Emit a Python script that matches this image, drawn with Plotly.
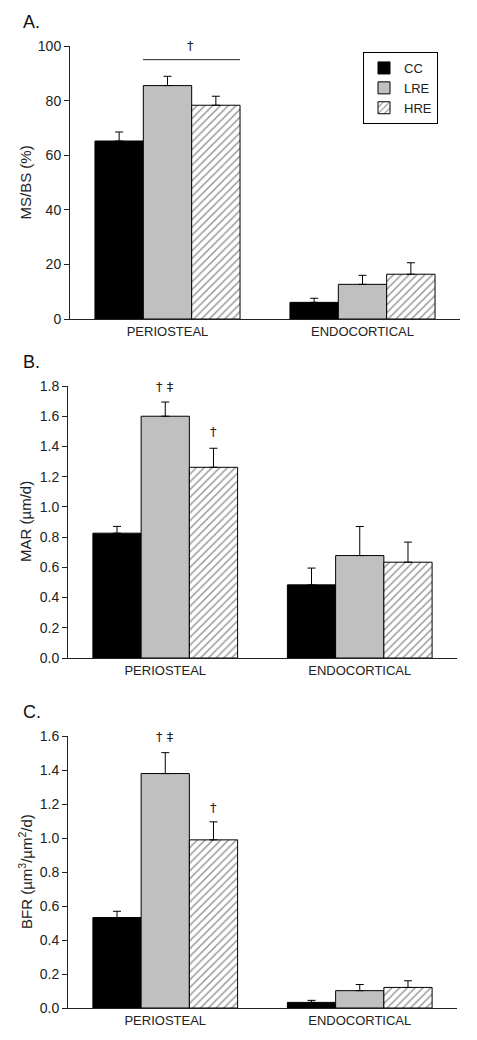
import plotly.graph_objects as go

sites = ["PERIOSTEAL", "ENDOCORTICAL"]
groups = ["CC", "LRE", "HRE"]

msbs = {"CC": [65.2, 6.1], "LRE": [85.5, 12.7], "HRE": [78.3, 16.4]}
msbs_err = {"CC": [3.3, 1.5], "LRE": [3.4, 3.3], "HRE": [3.3, 4.2]}

mar = {"CC": [0.826, 0.484], "LRE": [1.60, 0.678], "HRE": [1.262, 0.634]}
mar_err = {"CC": [0.045, 0.111], "LRE": [0.094, 0.192], "HRE": [0.126, 0.133]}

bfr = {"CC": [0.532, 0.033], "LRE": [1.379, 0.102], "HRE": [0.989, 0.121]}
bfr_err = {"CC": [0.037, 0.012], "LRE": [0.123, 0.036], "HRE": [0.106, 0.039]}

panels = [
    ("A.", "MS/BS (%)", msbs, msbs_err, [0, 100], [0, 20, 40, 60, 80, 100], None),
    ("B.", "MAR (µm/d)", mar, mar_err, [0, 1.8], [0, 0.2, 0.4, 0.6, 0.8, 1.0, 1.2, 1.4, 1.6, 1.8], ".1f"),
    ("C.", "BFR (µm<sup>3</sup>/µm<sup>2</sup>/d)", bfr, bfr_err, [0, 1.6], [0, 0.2, 0.4, 0.6, 0.8, 1.0, 1.2, 1.4, 1.6], ".1f"),
]

# the page has an 8px body margin: lay out in page pixels, then shift
OFF = 8
W, H = 477 - OFF, 1040 - OFF
def px(x):
    return (x - OFF) / W
def py(y):
    return 1 - (y - OFF) / H

# page-pixel boxes: (x_left, x_right, y_top, y_bottom)
boxes = [(70, 460, 46, 319), (68, 457, 386, 658), (68, 457, 736, 1008)]

styles = {
    "CC": dict(color="black"),
    "LRE": dict(color="#c0c0c0"),
    "HRE": dict(color="white", pattern=dict(shape="/", fgcolor="#222", bgcolor="white", size=5.5, solidity=0.25)),
}

FONT = "Liberation Sans, Arial, sans-serif"
fig = go.Figure()
layout = dict(
    width=W, height=H, margin=dict(l=0, r=0, t=0, b=0, autoexpand=False),
    paper_bgcolor="white", plot_bgcolor="white",
    barmode="group", bargap=0.256, bargroupgap=0,
    font=dict(family=FONT, size=13, color="#222"),
    showlegend=True,
    legend=dict(x=px(363), y=py(52), xanchor="left", yanchor="top",
                bordercolor="black", borderwidth=1, bgcolor="white",
                font=dict(family=FONT, size=13, color="#222"),
                itemwidth=30, tracegroupgap=0),
)
annotations = []
shapes = []

for i, (lab, ytitle, vals, errs, yr, ticks, fmt) in enumerate(panels):
    xl, xr, yt, yb = boxes[i]
    xa = "x" if i == 0 else f"x{i+1}"
    ya = "y" if i == 0 else f"y{i+1}"
    for g in groups:
        fig.add_trace(go.Bar(
            x=sites, y=vals[g], name=g, xaxis=xa, yaxis=ya,
            offsetgroup=g, legendgroup=g, showlegend=(i == 0),
            marker=dict(**styles[g], line=dict(color="black", width=1)),
            error_y=dict(type="data", symmetric=False, array=errs[g], arrayminus=[0, 0],
                         color="black", thickness=1, width=4),
        ))
    xkey = "xaxis" if i == 0 else f"xaxis{i+1}"
    ykey = "yaxis" if i == 0 else f"yaxis{i+1}"
    layout[xkey] = dict(
        domain=[px(xl), px(xr)], anchor=ya, type="category", range=[-0.5, 1.5],
        showline=True, linecolor="#222", linewidth=1, ticks="", showgrid=False,
        zeroline=False, automargin=False, tickfont=dict(size=13, color="#222"),
    )
    layout[ykey] = dict(
        domain=[py(yb), py(yt)], anchor=xa, range=yr,
        tickvals=ticks, tickformat=fmt, automargin=False,
        showline=True, linecolor="#222", linewidth=1, ticks="outside", ticklen=5,
        tickcolor="#222", showgrid=False, zeroline=False,
        tickfont=dict(size=14, color="#222"),
    )
    annotations.append(dict(text=lab, x=px(21), y=py(yt - 24), xref="paper", yref="paper",
                            xanchor="left", yanchor="middle", showarrow=False,
                            font=dict(size=18, color="#111")))
    annotations.append(dict(text=ytitle, x=px(25), y=py((yt + yb) / 2), xref="paper", yref="paper",
                            xanchor="center", yanchor="middle", textangle=-90, showarrow=False,
                            font=dict(size=15, color="#222")))

bw = (1 - 0.256) / 3
shapes.append(dict(type="line", xref="x", yref="y", x0=-0.126, x1=0.372, y0=95, y1=95,
                   line=dict(color="#222", width=1)))
DAG = dict(family="DejaVu Sans, sans-serif", size=13, color="#222")
annotations.append(dict(text="†", x=0.12, y=100, xref="x", yref="y", showarrow=False, font=DAG))
for xa, ya, y1, y2 in [("x2", "y2", 1.80, 1.50), ("x3", "y3", 1.60, 1.18)]:
    annotations.append(dict(text="† ‡", x=0, y=y1, xref=xa, yref=ya, showarrow=False,
                            yanchor="middle", font=DAG))
    annotations.append(dict(text="†", x=bw, y=y2, xref=xa, yref=ya, showarrow=False,
                            yanchor="middle", font=DAG))

layout["annotations"] = annotations
layout["shapes"] = shapes
fig.update_layout(**layout)
fig.write_html("out.html")
